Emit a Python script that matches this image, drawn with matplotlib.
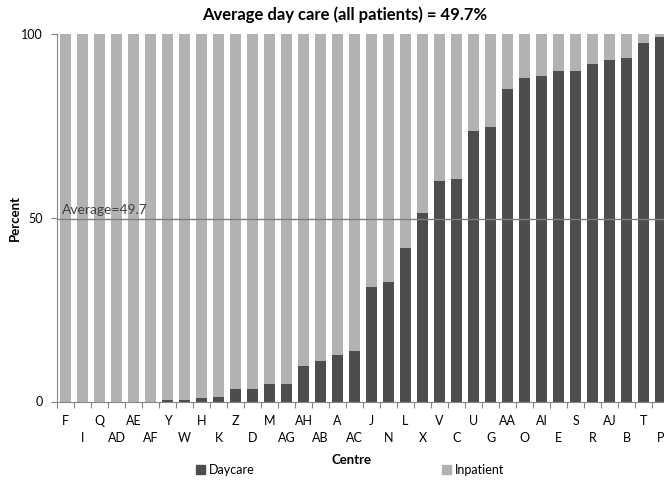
import matplotlib
matplotlib.use("Agg")
import matplotlib.pyplot as plt
from matplotlib.patches import Patch
import numpy as np

plt.rcParams['font.family'] = ['Lato', 'DejaVu Sans']

centres = ["F", "I", "Q", "AD", "AE", "AF", "Y", "W", "H", "K", "Z", "D",
           "M", "AG", "AH", "AB", "A", "AC", "J", "N", "L", "X", "V", "C",
           "U", "G", "AA", "O", "AI", "E", "S", "R", "AJ", "B", "T", "P"]
daycare = [0, 0, 0, 0, 0, 0, 0.3, 0.4, 0.9, 1.2, 3.4, 3.4,
           4.7, 4.7, 9.6, 11.0, 12.6, 13.8, 31.2, 32.5, 41.8, 51.2, 60.1, 60.5,
           73.7, 74.6, 85.1, 88.1, 88.7, 89.8, 89.8, 91.8, 92.8, 93.4, 97.6, 99.3]
inpatient = [100 - v for v in daycare]
average = 49.7

dark = "#4d4d4d"
light = "#b2b2b2"

fig = plt.figure(figsize=(6.64, 4.82), dpi=100)
W, H = 664.0, 482.0
ax = fig.add_axes([57 / W, 1 - 401.5 / H, 612 / W, 367.5 / H])

x = np.arange(len(centres))
ax.bar(x, daycare, width=0.66, color=dark, zorder=2)
ax.bar(x, inpatient, width=0.66, bottom=daycare, color=light, zorder=2)

ax.axhline(average, color="#7f7f7f", lw=1.0, zorder=3)
ax.text(-0.2, average + 0.9, "Average=49.7", fontsize=10, color="#404040",
        ha="left", va="bottom", zorder=4)

ax.set_xlim(-0.5, len(centres) - 0.5)
ax.set_ylim(0, 100)
ax.set_yticks([0, 50, 100])
ax.tick_params(axis="y", labelsize=9, length=4, color="#868686", pad=6)

# tick marks between bars, labels at bar centres in two rows
ax.set_xticks(np.arange(-0.5, len(centres) + 0.5, 1))
ax.set_xticklabels([])
ax.tick_params(axis="x", which="major", length=4, color="#868686")
ax.set_xticks(x, minor=True)
labs = [c if i % 2 == 0 else "\n" + c for i, c in enumerate(centres)]
ax.set_xticklabels(labs, minor=True, fontsize=9, linespacing=1.5)
ax.tick_params(axis="x", which="minor", length=0, pad=10)

for s in ["top", "right"]:
    ax.spines[s].set_visible(False)
for s in ["left", "bottom"]:
    ax.spines[s].set_color("#868686")

fig.text(345 / W, 1 - 15 / H, "Average day care (all patients) = 49.7%",
         fontsize=12, fontweight="bold", ha="center", va="center")
fig.text(15 / W, 1 - 218 / H, "Percent", fontsize=9.5, fontweight="bold",
         rotation=90, ha="center", va="center")
fig.text(352 / W, 1 - 460 / H, "Centre", fontsize=9.5, fontweight="bold",
         ha="center", va="center")

handles = [Patch(color=dark, label="Daycare"), Patch(color=light, label="Inpatient")]
fig.legend(handles=handles, loc="center", bbox_to_anchor=(350 / W, 1 - 470 / H),
           ncol=2, frameon=False, fontsize=9, handlelength=0.7, handleheight=0.7,
           handletextpad=0.3, columnspacing=15)

fig.savefig("out.png", dpi=100)
